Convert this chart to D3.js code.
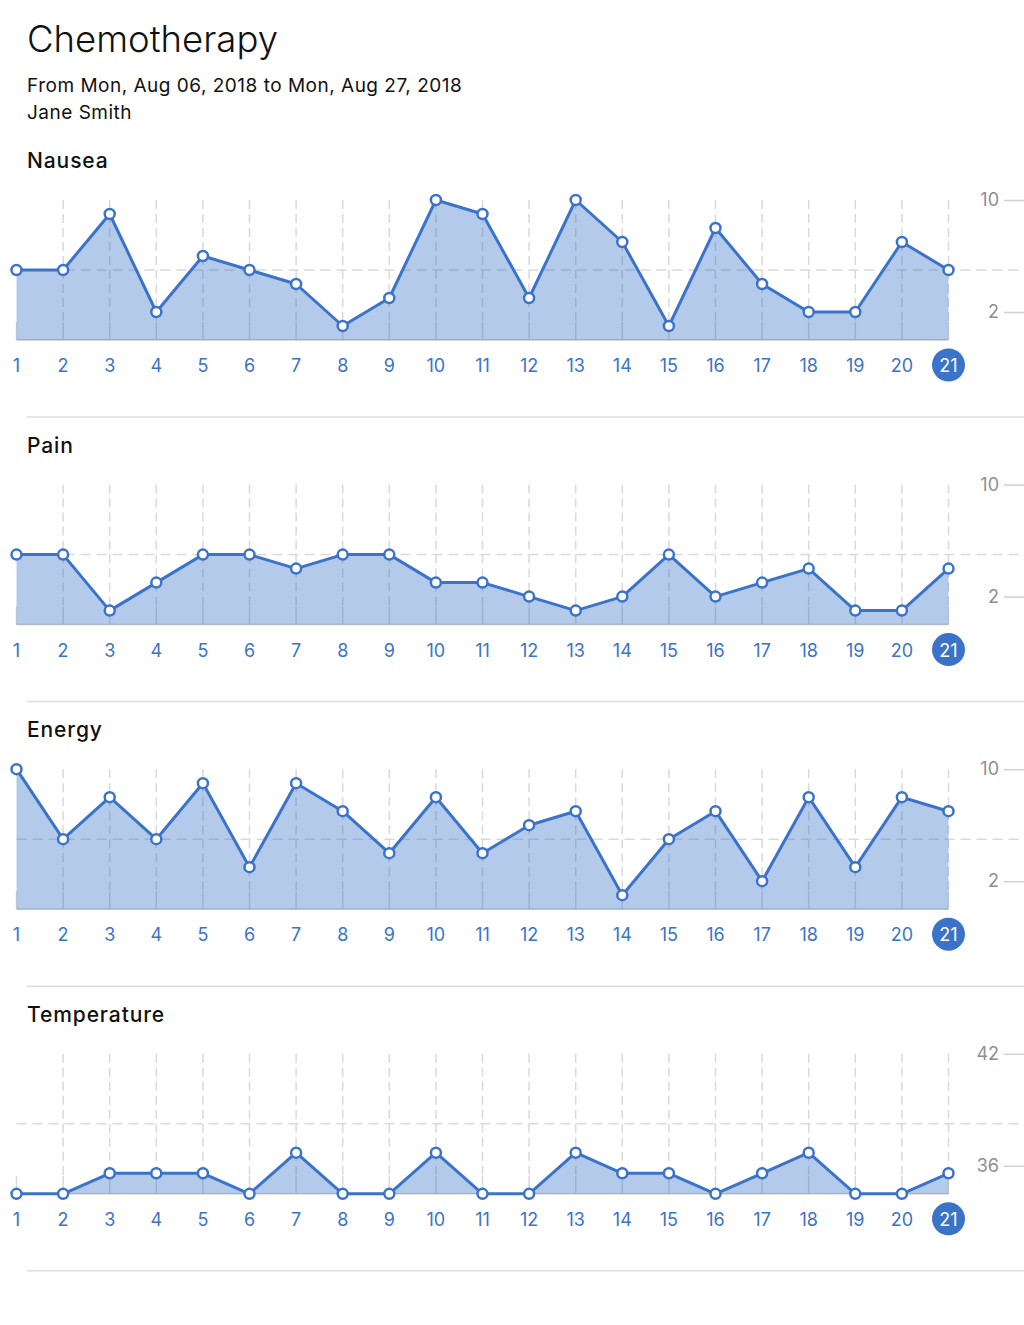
<!DOCTYPE html>
<html>
<head>
<meta charset="utf-8">
<script src="https://cdn.jsdelivr.net/npm/d3@7"></script>
<style>
  html, body { margin: 0; padding: 0; background: #fff; }
  svg { display: block; font-family: Inter, "Noto Sans", sans-serif; }
</style>
</head>
<body>
<svg id="chart" width="1024" height="1325"></svg>
<script>
const titleText = "Chemotherapy";
const subtitleText = "From Mon, Aug 06, 2018 to Mon, Aug 27, 2018";
const patientText = "Jane Smith";

const days = [1,2,3,4,5,6,7,8,9,10,11,12,13,14,15,16,17,18,19,20,21];

const nauseaValues = [5,5,9,2,6,5,4,1,3,10,9,3,10,7,1,8,4,2,2,7,5];
const painValues   = [5,5,1,3,5,5,4,5,5,3,3,2,1,2,5,2,3,4,1,1,4];
const energyValues = [10,5,8,5,9,3,9,7,4,8,4,6,7,1,5,7,2,8,3,8,7];
const temperatureValues = [34.5,34.5,35.6,35.6,35.6,34.5,36.7,34.5,34.5,36.7,34.5,34.5,36.7,35.6,35.6,34.5,35.6,36.7,34.5,34.5,35.6];

const panelNames = ["Nausea", "Pain", "Energy", "Temperature"];
const panelValues = [nauseaValues, painValues, energyValues, temperatureValues];
const panelDomains = [[0,10],[0,10],[0,10],[34.5,42]];
const panelTicks = [[2,10],[2,10],[2,10],[36,42]];

const blue = "#3b73c8";
const svg = d3.select("#chart");

svg.append("text").attr("x", 27).attr("y", 52)
  .attr("font-size", 36.5).attr("font-weight", 300).attr("fill", "#111").text(titleText);
svg.append("text").attr("x", 27).attr("y", 92)
  .attr("font-size", 19).attr("letter-spacing", 0.5).attr("fill", "#111").text(subtitleText);
svg.append("text").attr("x", 27).attr("y", 119)
  .attr("font-size", 19).attr("letter-spacing", 0.5).attr("fill", "#111").text(patientText);

const x = d3.scaleLinear().domain([1, 21]).range([16.5, 948.5]);
const panelStep = 284.6;

panelNames.forEach((name, i) => {
  const top = 200 + i * panelStep;
  const bottom = top + 140;
  const values = panelValues[i];
  const y = d3.scaleLinear().domain(panelDomains[i]).range([bottom, top]);
  const g = svg.append("g");
  const mid = (panelDomains[i][0] + panelDomains[i][1]) / 2;

  g.append("text").attr("x", 27).attr("y", top - 32)
    .attr("font-size", 21).attr("font-weight", 500).attr("letter-spacing", 0.9)
    .attr("fill", "#111").text(name);

  // vertical dashed gridlines
  g.selectAll(".vgrid").data(days.slice(1)).enter().append("line")
    .attr("x1", d => x(d)).attr("x2", d => x(d))
    .attr("y1", top).attr("y2", bottom - 18)
    .attr("stroke", "#d9d9d9").attr("stroke-width", 1.5).attr("stroke-dasharray", "9,5");
  // bottom ticks
  g.selectAll(".vtick").data(days).enter().append("line")
    .attr("x1", d => x(d)).attr("x2", d => x(d))
    .attr("y1", bottom - 18).attr("y2", bottom)
    .attr("stroke", "#d9d9d9").attr("stroke-width", 1.5);
  // mid horizontal dashed
  g.append("line").attr("x1", x(1)).attr("x2", 1024)
    .attr("y1", y(mid)).attr("y2", y(mid))
    .attr("stroke", "#d9d9d9").attr("stroke-width", 1.5).attr("stroke-dasharray", "10,6");
  // baseline
  g.append("line").attr("x1", x(1)).attr("x2", x(21))
    .attr("y1", bottom).attr("y2", bottom)
    .attr("stroke", "#c9c9c9").attr("stroke-width", 1.5);

  // right axis
  const axis = d3.axisRight(y).tickValues(panelTicks[i]).tickSize(0).tickPadding(0);
  const ag = g.append("g").attr("transform", "translate(1004,0)").call(axis);
  ag.select(".domain").remove();
  ag.selectAll(".tick line").attr("x1", 0).attr("x2", 20).attr("stroke", "#d0d0d0").attr("stroke-width", 1.5);
  ag.selectAll(".tick text").attr("x", -5).attr("text-anchor", "end")
    .attr("font-size", 18).attr("fill", "#8e8e8e").attr("font-family", "Inter, sans-serif");

  const area = d3.area().x((d, j) => x(days[j])).y0(bottom).y1(d => y(d));
  const line = d3.line().x((d, j) => x(days[j])).y(d => y(d));
  g.append("path").datum(values).attr("d", area).attr("fill", blue).attr("fill-opacity", 0.38);
  g.append("path").datum(values).attr("d", line).attr("fill", "none")
    .attr("stroke", blue).attr("stroke-width", 3).attr("stroke-linejoin", "round");
  g.selectAll(".pt").data(values).enter().append("circle")
    .attr("cx", (d, j) => x(days[j])).attr("cy", d => y(d)).attr("r", 5)
    .attr("fill", "#fff").attr("stroke", blue).attr("stroke-width", 2.5);

  // x labels
  const lastDay = days[days.length - 1];
  g.append("circle").attr("cx", x(lastDay)).attr("cy", bottom + 25).attr("r", 16.5).attr("fill", blue);
  g.selectAll(".xl").data(days).enter().append("text")
    .attr("x", d => x(d)).attr("y", bottom + 32)
    .attr("text-anchor", "middle").attr("font-size", 18)
    .attr("fill", d => d === lastDay ? "#fff" : blue).text(d => d);

  // separator
  g.append("line").attr("x1", 27).attr("x2", 1024)
    .attr("y1", bottom + 77).attr("y2", bottom + 77)
    .attr("stroke", "#dedede").attr("stroke-width", 1.5);
});
</script>
</body>
</html>
